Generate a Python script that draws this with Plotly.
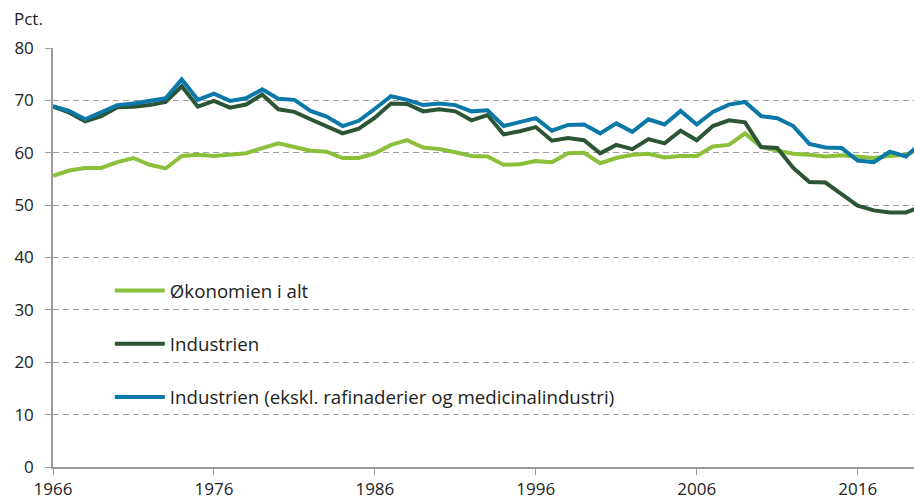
import plotly.graph_objects as go

years = list(range(1966, 2021))

okonomien = [55.6, 56.6, 57.1, 57.1, 58.2, 59.0, 57.7, 57.0, 59.4, 59.6,
             59.4, 59.7, 59.9, 60.9, 61.8, 61.1, 60.4, 60.2, 59.0, 59.0,
             59.9, 61.5, 62.4, 61.0, 60.7, 60.1, 59.4, 59.3, 57.7, 57.8,
             58.4, 58.2, 59.9, 60.0, 58.0, 59.0, 59.6, 59.8, 59.1, 59.4,
             59.4, 61.2, 61.5, 63.7, 61.1, 60.4, 59.8, 59.6, 59.3, 59.5,
             59.3, 59.0, 59.4, 59.6, 61.0]

industrien = [68.8, 67.7, 66.0, 67.0, 68.7, 68.8, 69.1, 69.7, 72.7, 68.8,
              69.9, 68.6, 69.2, 71.1, 68.3, 67.8, 66.4, 65.1, 63.7, 64.6,
              66.7, 69.4, 69.3, 67.9, 68.3, 67.9, 66.2, 67.2, 63.5, 64.1,
              64.9, 62.3, 62.8, 62.4, 59.9, 61.5, 60.7, 62.6, 61.8, 64.2,
              62.4, 65.1, 66.2, 65.8, 61.1, 60.9, 57.1, 54.4, 54.3, 52.1,
              49.9, 49.0, 48.6, 48.6, 49.8]

industrien_ekskl = [68.9, 68.0, 66.4, 67.7, 69.1, 69.4, 69.9, 70.4, 74.0, 70.1,
                    71.3, 69.9, 70.4, 72.1, 70.3, 70.1, 68.0, 66.9, 65.1, 66.1,
                    68.4, 70.8, 70.1, 69.1, 69.4, 69.1, 67.9, 68.1, 65.1, 65.8,
                    66.6, 64.2, 65.3, 65.4, 63.7, 65.6, 64.0, 66.4, 65.4, 68.0,
                    65.4, 67.8, 69.2, 69.7, 67.0, 66.6, 65.1, 61.7, 61.0, 60.9,
                    58.5, 58.2, 60.2, 59.3, 62.0]

series_names = ["Økonomien i alt", "Industrien",
                "Industrien (ekskl. rafinaderier og medicinalindustri)"]
series_values = [okonomien, industrien, industrien_ekskl]
colors = ["#8cc03a", "#2c5535", "#0a78a8"]

x_ticks = [1966, 1976, 1986, 1996, 2006, 2016]
y_ticks = [0, 10, 20, 30, 40, 50, 60, 70, 80]

FONT = "Open Sans"

fig = go.Figure()
for i, (name, vals, col) in enumerate(zip(series_names, series_values, colors)):
    fig.add_trace(go.Scatter(
        x=years, y=vals, name=name, mode="lines",
        line=dict(color=col, width=4),
        legendgroup=f"g{i}",
    ))

fig.update_layout(
    width=914, height=504,
    margin=dict(l=53, r=0, t=48, b=37),
    paper_bgcolor="white", plot_bgcolor="white",
    font=dict(family=FONT, size=17, color="#222222"),
    showlegend=True,
    legend=dict(
        x=0.066, y=0.466, xanchor="left", yanchor="top",
        bgcolor="rgba(0,0,0,0)", borderwidth=0,
        font=dict(family=FONT, size=18.7, color="#222222"),
        tracegroupgap=26, itemwidth=50,
    ),
    xaxis=dict(
        range=[1966, 2019.5], tickvals=x_ticks, ticktext=[str(v) for v in x_ticks],
        showgrid=False, zeroline=False,
        showline=True, linecolor="#9a9a9a", linewidth=1.5,
        ticks="outside", ticklen=6, tickcolor="#9a9a9a", tickwidth=1,
        tickfont=dict(family=FONT, size=17, color="#222222"),
    ),
    yaxis=dict(
        range=[0, 80], tickvals=y_ticks, ticktext=[str(v) for v in y_ticks],
        showgrid=True, gridcolor="#a0a0a0", gridwidth=1, griddash="6px,4px",
        zeroline=False,
        showline=True, linecolor="#9a9a9a", linewidth=1.5,
        ticks="outside", ticklen=6, tickcolor="#a0a0a0", tickwidth=1,
        tickfont=dict(family=FONT, size=17, color="#222222"),
        ticklabelstandoff=8,
    ),
    annotations=[dict(
        text="Pct.", xref="paper", yref="paper", x=-53/861, y=1 + 16/419,
        xanchor="left", yanchor="bottom", showarrow=False,
        font=dict(family=FONT, size=17, color="#222222"),
        xshift=12,
    )],
)

fig.write_html("out.html", config={"displayModeBar": False},
               post_script="document.body.style.margin='0px';")
